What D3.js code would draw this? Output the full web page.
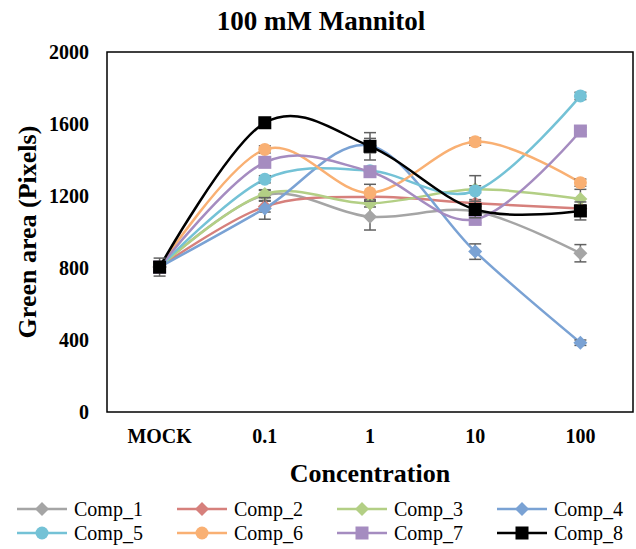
<!DOCTYPE html>
<html>
<head>
<meta charset="utf-8">
<script src="https://cdn.jsdelivr.net/npm/d3@7"></script>
<style>
  body { margin: 0; background: #fff; }
  text { font-family: "Liberation Serif", "Times New Roman", serif; }
</style>
</head>
<body>
<div id="chart"></div>
<script>
  // data
  const categories = ["MOCK", "0.1", "1", "10", "100"];
  const seriesNames = ["Comp_1", "Comp_2", "Comp_3", "Comp_4", "Comp_5", "Comp_6", "Comp_7", "Comp_8"];
  const comp1 = [805, 1205, 1085, 1115, 882];
  const comp2 = [805, 1141, 1195, 1160, 1131];
  const comp3 = [805, 1211, 1159, 1237, 1183];
  const comp4 = [805, 1131, 1480, 891, 385];
  const comp5 = [805, 1293, 1340, 1228, 1756];
  const comp6 = [805, 1459, 1218, 1502, 1274];
  const comp7 = [805, 1387, 1335, 1070, 1561];
  const comp8 = [805, 1607, 1476, 1125, 1117];
  // error bar half widths
  const err1 = [30, 30, 74, 30, 48];
  const err2 = [30, 30, 20, 20, 20];
  const err3 = [30, 20, 20, 20, 54];
  const err4 = [30, 60, 40, 43, 15];
  const err5 = [30, 20, 20, 85, 20];
  const err6 = [30, 20, 47, 20, 20];
  const err7 = [30, 20, 20, 20, 20];
  const err8 = [50, 20, 76, 46, 50];
  const yTicks = [0, 400, 800, 1200, 1600, 2000];

  const values = [comp1, comp2, comp3, comp4, comp5, comp6, comp7, comp8];
  const errors = [err1, err2, err3, err4, err5, err6, err7, err8];
  const colors = ["#a5a5a5", "#d6807c", "#b3cf85", "#7aa2d4", "#74c2d6", "#f9b073", "#a58cc0", "#000000"];
  const shapes = ["diamond", "diamond", "diamond", "diamond", "circle", "circle", "square", "square"];

  const series = seriesNames.map((name, i) => ({
      name: name,
      color: colors[i],
      shape: shapes[i],
      points: categories.map((c, j) => ({ cat: c, value: values[i][j], err: errors[i][j] }))
  }));

  // set the dimensions and margins of the graph
  const W = 636, H = 549;
  const margin = { top: 52, right: 3, bottom: 137, left: 107 },
      width = W - margin.left - margin.right,
      height = H - margin.top - margin.bottom;

  const svg = d3.select("#chart")
      .append("svg")
      .attr("width", W)
      .attr("height", H);

  const g = svg.append("g")
      .attr("transform", "translate(" + margin.left + "," + margin.top + ")");

  const x = d3.scaleBand().domain(categories).range([0, width]);
  const y = d3.scaleLinear().domain([0, 2000]).range([height, 0]);
  const cx = d => x(d) + x.bandwidth() / 2;

  // y axis labels
  const yAxis = g.append("g")
      .call(d3.axisLeft(y).tickValues(yTicks).tickSize(0).tickPadding(18).tickFormat(d3.format("d")));
  yAxis.select(".domain").remove();
  yAxis.selectAll("text")
      .attr("font-family", "Liberation Serif")
      .attr("font-weight", "bold")
      .attr("font-size", 20)
      .attr("fill", "#000");

  // x axis labels
  const xAxis = g.append("g")
      .attr("transform", "translate(0," + height + ")")
      .call(d3.axisBottom(x).tickSize(0).tickPadding(17));
  xAxis.select(".domain").remove();
  xAxis.selectAll("text")
      .attr("font-family", "Liberation Serif")
      .attr("font-weight", "bold")
      .attr("font-size", 20)
      .attr("fill", "#000");

  // plot frame
  g.append("rect")
      .attr("x", 0).attr("y", 0)
      .attr("width", width).attr("height", height)
      .attr("fill", "none")
      .attr("stroke", "#000")
      .attr("stroke-width", 1.5);

  const line = d3.line()
      .x(d => cx(d.cat))
      .y(d => y(d.value))
      .curve(d3.curveCardinal.tension(0));

  function drawMarker(sel, shape, color) {
      if (shape === "circle") {
          sel.append("circle").attr("r", 6.5).attr("fill", color);
      } else if (shape === "square") {
          sel.append("rect").attr("x", -6.5).attr("y", -6.5)
              .attr("width", 13).attr("height", 13).attr("fill", color);
      } else {
          sel.append("path").attr("d", "M0,-7L7,0L0,7L-7,0Z").attr("fill", color);
      }
  }

  series.forEach(s => {
      const sg = g.append("g");
      sg.append("path")
          .datum(s.points)
          .attr("d", line)
          .attr("fill", "none")
          .attr("stroke", s.color)
          .attr("stroke-width", 2.5);

      // error bars
      const eb = sg.selectAll(".eb")
          .data(s.points)
          .enter().append("g")
          .attr("stroke", "#616161")
          .attr("stroke-width", 1.5);
      eb.append("line")
          .attr("x1", d => cx(d.cat)).attr("x2", d => cx(d.cat))
          .attr("y1", d => y(d.value - d.err)).attr("y2", d => y(d.value + d.err));
      eb.append("line")
          .attr("x1", d => cx(d.cat) - 6).attr("x2", d => cx(d.cat) + 6)
          .attr("y1", d => y(d.value - d.err)).attr("y2", d => y(d.value - d.err));
      eb.append("line")
          .attr("x1", d => cx(d.cat) - 6).attr("x2", d => cx(d.cat) + 6)
          .attr("y1", d => y(d.value + d.err)).attr("y2", d => y(d.value + d.err));

      sg.selectAll(".mk")
          .data(s.points)
          .enter().append("g")
          .attr("transform", d => "translate(" + cx(d.cat) + "," + y(d.value) + ")")
          .each(function() { drawMarker(d3.select(this), s.shape, s.color); });
  });

  // titles
  svg.append("text")
      .attr("x", 321).attr("y", 30)
      .attr("text-anchor", "middle")
      .attr("font-weight", "bold")
      .attr("font-size", 27)
      .text("100 mM Mannitol");

  svg.append("text")
      .attr("transform", "translate(36," + (margin.top + height / 2) + ") rotate(-90)")
      .attr("text-anchor", "middle")
      .attr("font-weight", "bold")
      .attr("font-size", 26)
      .text("Green area (Pixels)");

  svg.append("text")
      .attr("x", margin.left + width / 2).attr("y", 482)
      .attr("text-anchor", "middle")
      .attr("font-weight", "bold")
      .attr("font-size", 26)
      .text("Concentration");

  // legend
  const legend = svg.append("g");
  series.forEach((s, i) => {
      const col = i % 4, row = Math.floor(i / 4);
      const lx = 17 + col * 160, ly = 509 + row * 24;
      const lg = legend.append("g").attr("transform", "translate(" + lx + "," + ly + ")");
      lg.append("line")
          .attr("x1", 0).attr("x2", 50)
          .attr("stroke", s.color)
          .attr("stroke-width", 2.5);
      const m = lg.append("g").attr("transform", "translate(25,0)");
      drawMarker(m, s.shape, s.color);
      lg.append("text")
          .attr("x", 57).attr("y", 0)
          .attr("dy", "0.35em")
          .attr("font-size", 20)
          .text(s.name);
  });
</script>
</body>
</html>
